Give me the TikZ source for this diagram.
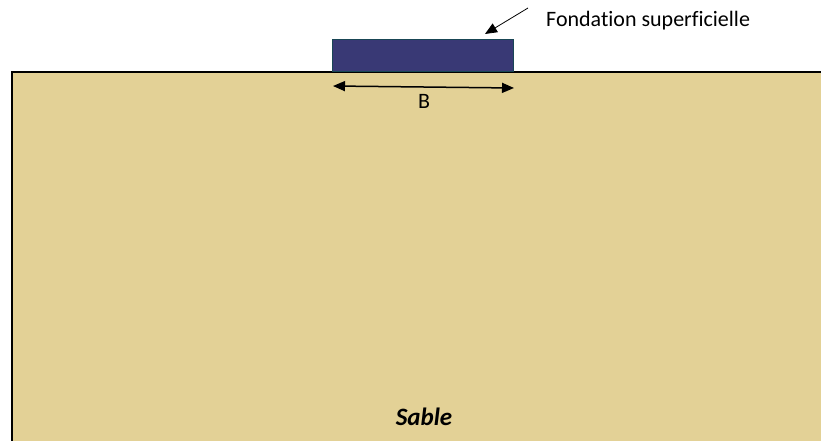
\documentclass[tikz,border=0pt]{standalone}
\usepackage{fontspec}
\setmainfont{Carlito}[Ligatures={NoCommon,NoDiscretionary,NoContextual}]
\usepackage{xcolor}
\usetikzlibrary{arrows.meta}
\definecolor{sand}{RGB}{227,209,150}
\definecolor{footing}{RGB}{57,57,117}
\definecolor{footedge}{RGB}{25,70,85}

\begin{document}
\begin{tikzpicture}[x=1pt,y=1pt,>={Triangle[length=12pt,width=10pt]}]
  \useasboundingbox (0,0) rectangle (821,-441);
  % sol
  \fill[sand] (12,-72) rectangle (821,-441);
  \draw[black,line width=2pt] (12,-441) -- (12,-72) -- (821,-72);
  % fondation
  \node[rectangle,draw=footedge,fill=footing,line width=0.8pt,minimum width=181pt,minimum height=32pt,inner sep=0pt,anchor=south west] (fond) at (332,-72) {};
  \coordinate (bl) at (333,-86);
  \coordinate (br) at (514,-88);
  \draw[<->, line width=1.5pt] (bl) -- (br);
  \node[font=\fontsize{22}{26}\selectfont] (blab) at (424,-101) {B};
  % legende
  \node[font=\fontsize{22}{26}\selectfont,anchor=west,inner sep=0pt] (leg) at (546,-21) {Fondation superficielle};
  \coordinate (tail) at (528,-8);
  \coordinate (tip) at (485,-34);
  \draw[->, line width=0.8pt] (tail) -- (tip);
  \node[font=\fontsize{25}{30}\selectfont\bfseries\itshape] (sable) at (424,-417) {Sable};
\end{tikzpicture}
\end{document}
